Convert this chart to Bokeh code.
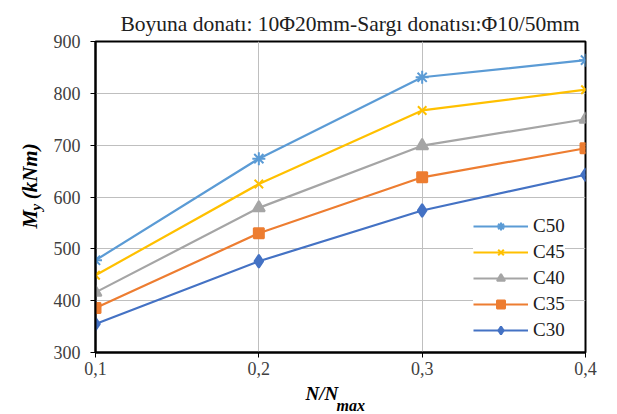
import math
from bokeh.plotting import figure
from bokeh.models import FixedTicker, Label, Legend, LegendItem, Title
from bokeh.embed import file_html
from bokeh.resources import INLINE

# ---- data ----
x_values = [0.1, 0.2, 0.3, 0.4]
x_tick_labels = ["0,1", "0,2", "0,3", "0,4"]
y_ticks = [300, 400, 500, 600, 700, 800, 900]

c50 = [478, 674, 831, 864]
c45 = [449, 625, 767, 807]
c40 = [416, 579, 699, 750]
c35 = [386, 530, 638, 694]
c30 = [355, 476, 574, 643]

series_names = ["C50", "C45", "C40", "C35", "C30"]
series_values = [c50, c45, c40, c35, c30]
series_colors = ["#5B9BD5", "#FFC000", "#A5A5A5", "#ED7D31", "#4472C4"]
series_markers = ["asterisk", "x", "triangle", "square", "diamond"]
series_sizes = [13, 12, 12, 10, 13]

title_text = "Boyuna donatı: 10Φ20mm-Sargı donatısı:Φ10/50mm"

FONT = "Liberation Serif"

W, H = 617, 414
FL, FT, FR, FB = 95, 41, 585, 352  # frame edges in page pixels
p = figure(width=W, height=H, output_backend="svg", toolbar_location=None,
           x_range=(0.1, 0.4), y_range=(300, 900),
           min_border_left=FL, min_border_right=W - FR, min_border_top=FT, min_border_bottom=H - FB)

p.title = Title(text=title_text, align="left", offset=25, standoff=11,
                text_font=FONT, text_font_size="21.5px", text_font_style="normal",
                text_color="#202020")

p.outline_line_color = "black"
p.outline_line_width = 2
p.background_fill_color = "white"
p.border_fill_color = "white"

p.xaxis.ticker = FixedTicker(ticks=x_values)
p.xaxis.major_label_overrides = {v: t for v, t in zip(x_values, x_tick_labels)}
p.yaxis.ticker = FixedTicker(ticks=y_ticks)

for ax in (p.xaxis[0], p.yaxis[0]):
    ax.axis_line_color = "black"
    ax.axis_line_width = 2
    ax.major_tick_line_color = "black"
    ax.major_tick_line_width = 1
    ax.major_tick_in = 0
    ax.major_tick_out = 5
    ax.minor_tick_line_color = None
    ax.major_label_text_font = FONT
    ax.major_label_text_font_size = "18px"
    ax.major_label_text_color = "#404040"
p.yaxis.major_label_standoff = 10
p.xaxis.major_label_standoff = 4

p.xgrid.grid_line_color = "#BFBFBF"
p.ygrid.grid_line_color = "#BFBFBF"
p.xgrid.ticker = FixedTicker(ticks=x_values)
p.ygrid.ticker = FixedTicker(ticks=y_ticks)

items = []
for name, vals, col, mk, sz in zip(series_names, series_values, series_colors, series_markers, series_sizes):
    ln = p.line(x_values, vals, line_color=col, line_width=2.2)
    sc = p.scatter(x_values, vals, marker=mk, size=sz, line_color=col, fill_color=col, line_width=2)
    items.append(LegendItem(label=name, renderers=[ln, sc]))

legend = Legend(items=items, location=(378, 11), orientation="vertical")
legend.label_text_font = FONT
legend.label_text_font_size = "19px"
legend.label_text_color = "#202020"
legend.glyph_width = 55
legend.glyph_height = 20
legend.label_height = 20
legend.spacing = 4
legend.label_standoff = 5
legend.padding = 5
legend.margin = 0
legend.border_line_color = None
legend.background_fill_color = "white"
legend.background_fill_alpha = 1.0
p.add_layout(legend, "center")

def lab(place, x, y, text, size, angle=0.0):
    p.add_layout(Label(x=x, y=y, x_units="screen", y_units="screen", text=text,
                       text_font=FONT, text_font_size=size, text_font_style="bold italic",
                       text_align="left", text_baseline="alphabetic", angle=angle,
                       text_color="black"), place)

# x-axis label: N/N_max  ("max" placed via the right-side panel slot)
lab("below", 210, 5, "N/N", "19px")
lab("right", 336 - FR, FB - 405, "max", "16px")

# y-axis label: M_y (kNm)
lab("left", 3, 124, "M\u00a0\u00a0(kNm)", "21px", angle=math.pi / 2)
lab("left", 25, 142, "y", "15px", angle=math.pi / 2)

open("out.html", "w").write(file_html(p, INLINE))
